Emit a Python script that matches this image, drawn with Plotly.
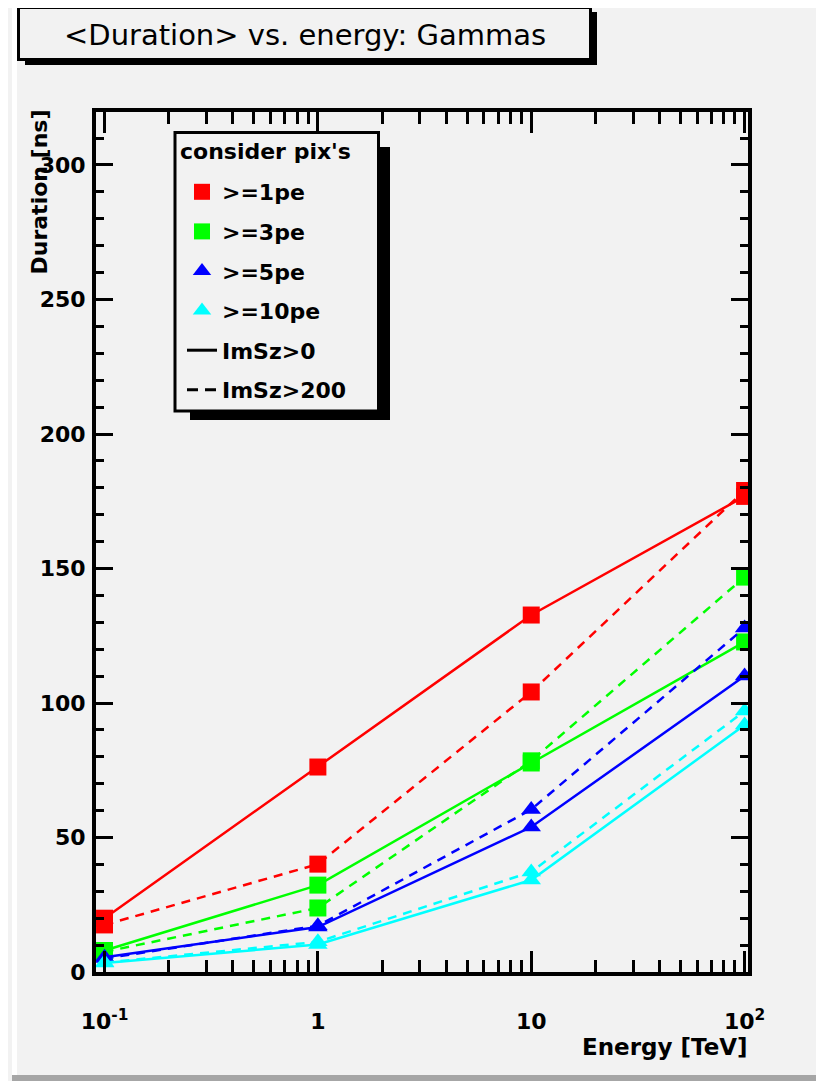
import plotly.graph_objects as go

# ---------------- data ----------------
energy = [0.1, 1, 10, 100]

# ImSz>0 (solid)
solid_1pe = [20.0, 76.2, 132.7, 176.8]
solid_3pe = [8.0, 32.3, 77.7, 122.7]
solid_5pe = [5.5, 16.7, 53.9, 110.0]
solid_10pe = [3.3, 10.2, 34.2, 91.8]

# ImSz>200 (dashed)
dashed_1pe = [17.5, 40.1, 104.1, 179.0]
dashed_3pe = [7.5, 23.8, 78.5, 146.8]
dashed_5pe = [5.0, 17.2, 60.4, 127.9]
dashed_10pe = [3.5, 11.2, 37.2, 97.0]

series_names = [">=1pe", ">=3pe", ">=5pe", ">=10pe"]
series_colors = ["#ff0000", "#00ff00", "#0000ff", "#00ffff"]
series_symbols = ["square", "square", "triangle-up", "triangle-up"]
series_sizes = [17, 17, 17, 17]

x_tickvals = [0.1, 1, 10, 100]
x_ticktext = ["10<sup>-1</sup>", "1", "10", "10<sup>2</sup>"]
x_minor = [0.2, 0.3, 0.4, 0.5, 0.6, 0.7, 0.8, 0.9,
           2, 3, 4, 5, 6, 7, 8, 9,
           20, 30, 40, 50, 60, 70, 80, 90]

title_text = "&lt;Duration&gt; vs. energy: Gammas"
legend_title = "consider pix's"
style_names = ["ImSz&gt;0", "ImSz&gt;200"]

# ---------------- layout geometry (page pixels) ----------------
OFF = 8                       # page body margin
WIDTH, HEIGHT = 824 - OFF, 1081 - OFF
L, R, T, B = 96, 748, 112, 972   # plot area in page pixels
PW, PH = R - L, B - T


def xp(px):
    return (px - L) / PW


def yp(py):
    return (B - py) / PH


BG = "#f2f2f2"
FONT = "DejaVu Sans"

fig = go.Figure()

solid_sets = [solid_1pe, solid_3pe, solid_5pe, solid_10pe]
dashed_sets = [dashed_1pe, dashed_3pe, dashed_5pe, dashed_10pe]

for i in range(4):
    for vals, dash in ((dashed_sets[i], "9px,7px"), (solid_sets[i], "solid")):
        fig.add_trace(go.Scatter(
            x=energy, y=vals, mode="lines+markers",
            line=dict(color=series_colors[i], width=2.5, dash=dash),
            marker=dict(symbol=series_symbols[i], size=series_sizes[i],
                        color=series_colors[i]),
            showlegend=False, hoverinfo="skip",
        ))

# legend entries
for i in range(4):
    fig.add_trace(go.Scatter(
        x=[None], y=[None], mode="markers", name=series_names[i].replace(">", "&gt;"),
        marker=dict(symbol=series_symbols[i], size=16, color=series_colors[i]),
        legendgroup="g%d" % i, showlegend=True,
    ))
for j, dash in enumerate(["solid", "11px,7px"]):
    fig.add_trace(go.Scatter(
        x=[None], y=[None], mode="lines", name=style_names[j],
        line=dict(color="black", width=3, dash=dash),
        legendgroup="s%d" % j, showlegend=True,
    ))

axis_font = dict(family=FONT, size=22, color="black", weight="bold")

fig.update_xaxes(
    type="log", range=[-1.040, 2.016],
    showgrid=False, zeroline=False,
    showline=True, linewidth=4, linecolor="black", mirror="ticks",
    ticks="inside", ticklen=21, tickwidth=3, tickcolor="black",
    tickvals=x_tickvals, ticktext=x_ticktext,
    tickfont=axis_font, ticklabelstandoff=27,
    minor=dict(tickvals=x_minor, ticks="inside", ticklen=12, tickwidth=3,
               tickcolor="black", showgrid=False),
)
fig.update_yaxes(
    range=[0, 319.7],
    showgrid=False, zeroline=False,
    showline=True, linewidth=4, linecolor="black", mirror="ticks",
    ticks="inside", ticklen=17, tickwidth=3, tickcolor="black",
    tick0=0, dtick=50,
    tickfont=axis_font, ticklabelstandoff=2,
    minor=dict(dtick=10, ticks="inside", ticklen=8, tickwidth=3,
               tickcolor="black", showgrid=False),
)

shapes = [
    # canvas bevel
    dict(type="rect", xref="paper", yref="paper", x0=xp(12), x1=xp(17),
         y0=yp(OFF), y1=yp(1075), fillcolor="white", line_width=0, layer="below"),
    dict(type="rect", xref="paper", yref="paper", x0=xp(12), x1=xp(830),
         y0=yp(1075), y1=yp(1090), fillcolor="#a6a6a6", line_width=0, layer="below"),
    # title box shadow + box
    dict(type="rect", xref="paper", yref="paper", x0=xp(25), x1=xp(597),
         y0=yp(12), y1=yp(65), fillcolor="black", line_width=0, layer="above"),
    dict(type="rect", xref="paper", yref="paper", x0=xp(18.5), x1=xp(590.5),
         y0=yp(7.5), y1=yp(59.5), fillcolor=BG,
         line=dict(color="black", width=3), layer="above"),
    # legend box shadow + box
    dict(type="rect", xref="paper", yref="paper", x0=xp(190), x1=xp(390),
         y0=yp(147), y1=yp(420), fillcolor="black", line_width=0, layer="above"),
    dict(type="rect", xref="paper", yref="paper", x0=xp(175), x1=xp(378.5),
         y0=yp(132.5), y1=yp(411), fillcolor=BG,
         line=dict(color="black", width=3), layer="above"),
]

annotations = [
    dict(text=title_text, xref="paper", yref="paper", x=xp(305), y=yp(35),
         xanchor="center", yanchor="middle", showarrow=False,
         font=dict(family=FONT, size=29, color="black")),
    dict(text=legend_title, xref="paper", yref="paper", x=xp(178), y=yp(152),
         xanchor="left", yanchor="middle", showarrow=False,
         font=dict(family=FONT, size=22, color="black", weight="bold")),
    dict(text="Duration [ns]", xref="paper", yref="paper", x=xp(39), y=yp(108),
         xanchor="center", yanchor="top", textangle=-90, showarrow=False,
         font=dict(family=FONT, size=22, color="black", weight="bold")),
    dict(text="Energy [TeV]", xref="paper", yref="paper", x=xp(750), y=yp(1047),
         xanchor="right", yanchor="middle", showarrow=False,
         font=dict(family=FONT, size=23, color="black", weight="bold")),
]

fig.update_layout(
    width=WIDTH, height=HEIGHT,
    margin=dict(l=L - OFF, r=WIDTH - (R - OFF), t=T - OFF, b=HEIGHT - (B - OFF), pad=0),
    paper_bgcolor=BG, plot_bgcolor=BG,
    shapes=shapes, annotations=annotations,
    showlegend=True,
    legend=dict(x=xp(182), y=yp(171), xanchor="left", yanchor="top",
                bgcolor="rgba(0,0,0,0)", borderwidth=0,
                traceorder="grouped", tracegroupgap=8,
                font=dict(family=FONT, size=22, color="black", weight="bold")),
    font=dict(family=FONT),
)

fig.write_html("out.html")
